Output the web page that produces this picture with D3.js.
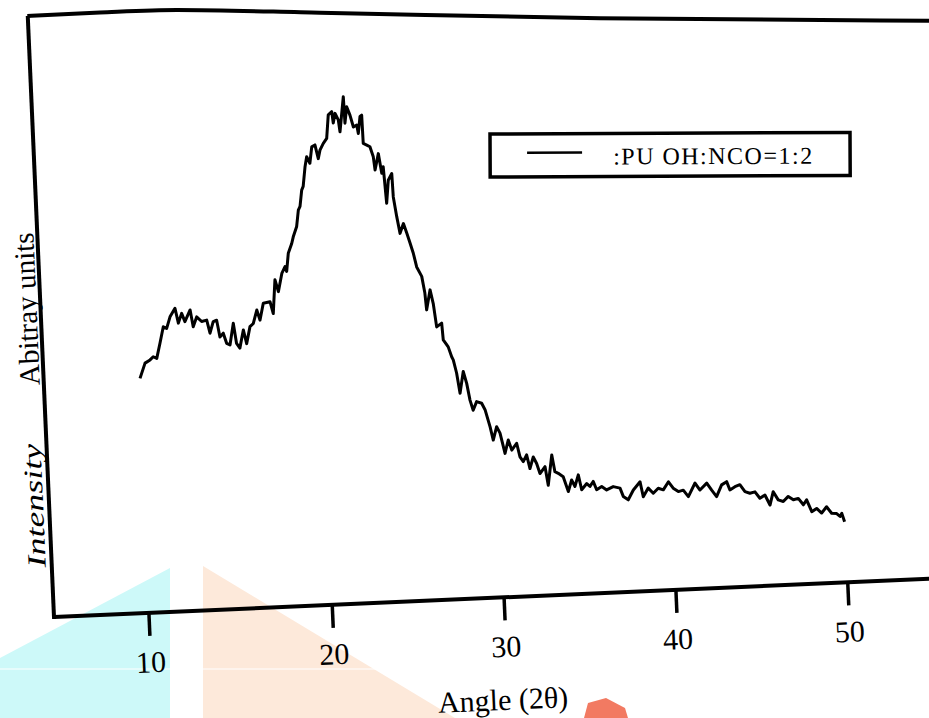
<!DOCTYPE html>
<html><head><meta charset="utf-8">
<script src="https://cdn.jsdelivr.net/npm/d3@7"></script>
<style>html,body{margin:0;padding:0;background:#fff;overflow:hidden}</style>
</head><body><svg id="c" width="929" height="718"></svg>
<script>
// ---- data (2θ in degrees, intensity in arbitrary units) ----
const angle = [10.10,10.41,10.69,10.87,11.06,11.27,11.49,11.67,11.88,12.17,
12.32,12.52,12.68,12.99,13.12,13.33,13.59,13.87,14.02,14.22,
14.41,14.55,14.74,14.90,15.08,15.31,15.44,15.61,15.84,15.99,
16.21,16.40,16.62,16.77,16.99,17.36,17.51,17.68,17.84,18.07,
18.26,18.34,18.47,18.68,18.78,18.99,19.12,19.22,19.35,19.44,
19.59,19.70,19.86,20.00,20.19,20.35,20.47,20.68,20.89,21.04,
21.25,21.31,21.44,21.61,21.68,21.96,21.99,22.13,22.30,22.47,
22.67,22.74,22.88,22.98,23.00,23.20,23.38,23.55,23.62,23.85,
24.00,24.10,24.21,24.36,24.58,24.61,24.76,24.91,25.13,25.30,
25.47,25.63,25.79,26.06,26.20,26.26,26.51,26.66,26.80,27.10,
27.15,27.42,27.60,27.68,27.84,27.99,28.23,28.40,28.55,28.71,
28.93,29.22,29.40,29.65,29.80,30.03,30.21,30.45,30.67,30.85,
31.15,31.31,31.49,31.70,31.86,32.08,32.26,32.43,32.74,32.88,
33.16,33.30,33.49,33.77,34.03,34.25,34.43,34.65,34.81,35.12,
35.30,35.50,35.68,35.98,36.26,36.65,37.04,37.21,37.49,37.81,
38.22,38.37,38.68,38.96,39.26,39.55,39.87,40.13,40.42,40.71,
40.99,41.41,41.68,42.09,42.36,42.63,42.95,43.25,43.42,43.72,
44.01,44.29,44.57,44.87,45.14,45.44,45.71,45.93,46.20,46.49,
46.79,47.08,47.37,47.65,47.85,48.12,48.41,48.69,48.99,49.27,
49.56,49.75,49.86,50.00];
const intensity = [39.0,41.5,42.0,42.5,42.2,44.7,47.4,47.1,49.0,50.4,
47.9,49.5,48.1,50.0,47.2,48.8,48.0,48.2,46.0,47.9,
48.1,45.3,45.9,44.2,43.9,47.5,44.1,43.3,46.3,44.0,
46.8,47.3,49.5,47.8,50.6,50.8,48.8,54.4,52.4,55.4,
56.5,55.7,58.7,60.3,61.4,63.1,65.8,66.4,69.1,69.7,
73.0,74.6,73.5,76.2,76.5,74.2,75.6,76.7,77.5,81.4,
81.9,80.0,81.6,80.5,78.5,84.3,79.9,82.6,81.2,79.2,
79.5,78.1,80.9,81.1,76.4,76.1,75.8,74.1,71.9,74.6,
71.3,72.4,66.3,70.1,71.2,67.3,64.0,61.2,62.8,61.2,
59.5,57.8,55.5,53.9,51.1,48.3,51.6,49.3,45.4,46.0,
43.2,42.0,40.3,39.8,37.6,34.2,37.8,35.8,33.0,31.3,
32.7,32.4,31.3,28.4,26.2,28.4,27.3,23.9,26.1,24.4,
25.5,23.2,22.4,23.5,21.2,23.1,22.0,20.3,21.4,18.3,
23.3,20.5,20.2,19.6,17.1,19.0,17.9,19.8,17.3,18.3,
17.8,18.6,17.2,17.7,17.1,17.6,17.3,15.9,15.3,16.9,
18.2,15.7,17.1,16.2,17.0,16.7,18.0,16.9,16.3,16.5,
15.4,17.6,16.4,17.5,16.3,15.2,17.1,17.6,16.2,16.7,
17.0,15.8,15.5,15.7,14.6,15.1,13.4,15.6,14.2,13.9,
14.7,14.1,14.3,13.2,14.0,12.0,12.5,11.7,12.7,11.6,
11.5,11.0,11.5,10.1];
const xTicks = [10,20,30,40,50];
const xTickLabels = ["10","20","30","40","50"];
const seriesLabel = ":PU OH:NCO=1:2";
const xTitle = "Angle (2θ)";
const yTitleMain = "Abitray units";
const yTitleHand = "Intensity";

const W = 929, H = 718;
const svg = d3.select("#c");
svg.append("rect").attr("width", W).attr("height", H).attr("fill", "#fff");

// scan watermark patches
svg.append("path").attr("d", "M0,658 L170,568 L170,718 L0,718 Z").attr("fill", "#cdf9f9");
svg.append("path").attr("d", "M203,566 L455,718 L203,718 Z").attr("fill", "#fde9da");
svg.append("path").attr("d", "M588,703 L606,698 L625,708 L628,718 L584,718 Z").attr("fill", "#f27a62");
svg.append("line").attr("x1", 0).attr("x2", 460).attr("y1", 669).attr("y2", 669).attr("stroke", "#fff").attr("stroke-width", 1.2);

const serif = "'Liberation Serif','Times New Roman',serif";

// rotated plot frame (scan is tilted)
const g = svg.append("g").attr("transform", "translate(54,617) rotate(-2.5)");
const x = d3.scaleLinear().domain([10, 20, 50]).range([94.5, 278, 794]);
const y = d3.scaleLinear().domain([0, 100]).range([0, -601.6]);

// axis lines
g.append("line").attr("x1", 0).attr("x2", 920).attr("y1", 0).attr("y2", 0)
  .attr("stroke", "#000").attr("stroke-width", 4);
g.append("line").attr("x1", 0).attr("x2", 0).attr("y1", 2).attr("y2", y(100))
  .attr("stroke", "#000").attr("stroke-width", 4);

const xAxis = d3.axisBottom(x).tickValues(xTicks).tickFormat((d, i) => xTickLabels[i]).tickSize(23).tickPadding(15);
const ax = g.append("g").call(xAxis);
ax.select(".domain").remove();
ax.selectAll(".tick line").attr("stroke", "#000").attr("stroke-width", 3.5);
ax.selectAll(".tick text").attr("y", 59.5).attr("dy", 0)
  .attr("font-family", serif).attr("font-size", 30).attr("fill", "#000");

g.append("text").attr("x", 445).attr("y", 112.5).attr("text-anchor", "middle")
  .attr("font-family", serif).attr("font-size", 30).attr("fill", "#000").text(xTitle);

g.append("text").attr("transform", "translate(-4,-309) rotate(-90)").attr("text-anchor", "middle")
  .attr("font-family", serif).attr("font-size", 29).attr("fill", "#000")
  .attr("textLength", 153).attr("lengthAdjust", "spacingAndGlyphs").text(yTitleMain);
g.append("text").attr("transform", "translate(-6,-112) rotate(-90)").attr("text-anchor", "middle")
  .attr("font-family", serif).attr("font-style", "italic").attr("font-size", 26).attr("fill", "#000")
  .attr("textLength", 124).attr("lengthAdjust", "spacingAndGlyphs").text(yTitleHand);

// data trace
const pts = angle.map((a, i) => [a, intensity[i]]);
g.append("path").datum(pts)
  .attr("d", d3.line().x(d => x(d[0])).y(d => y(d[1])))
  .attr("fill", "none").attr("stroke", "#000").attr("stroke-width", 3)
  .attr("stroke-linejoin", "round");

// top border (warped in the scan)
svg.append("path")
  .attr("d", d3.line().curve(d3.curveMonotoneX)([[27.3,16],[100,12.5],[177,10],[320,12.7],[600,18.3],[929,20.7]]))
  .attr("fill", "none").attr("stroke", "#000").attr("stroke-width", 4);

// legend
const lg = svg.append("g").attr("transform", "translate(490,134) rotate(-0.25)");
lg.append("rect").attr("width", 360).attr("height", 43).attr("fill", "none")
  .attr("stroke", "#000").attr("stroke-width", 3.5);
lg.append("line").attr("x1", 37).attr("x2", 92).attr("y1", 19).attr("y2", 19)
  .attr("stroke", "#000").attr("stroke-width", 2.5);
lg.append("text").attr("x", 123).attr("y", 31).attr("font-family", serif).attr("font-size", 24)
  .attr("fill", "#000").attr("textLength", 199).attr("lengthAdjust", "spacing").text(seriesLabel);
</script></body></html>
